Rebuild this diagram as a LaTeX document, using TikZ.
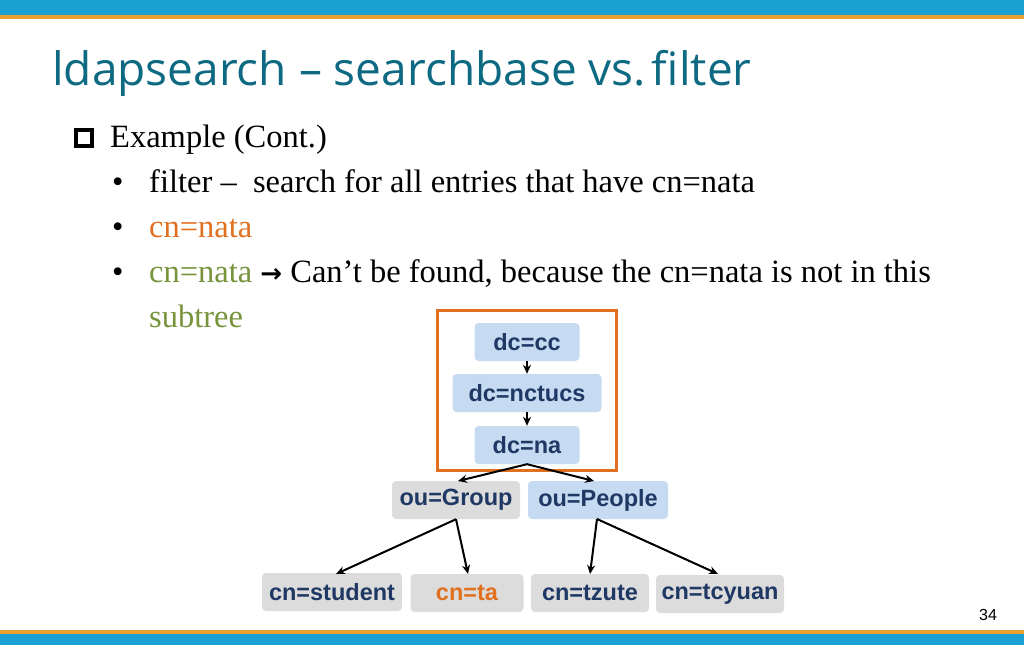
\documentclass[tikz,border=0pt]{standalone}
\usepackage{fontspec}
\setmainfont{Liberation Serif}
\newfontfamily\titlefont{Open Sans}
\newfontfamily\arialf{Liberation Sans}
\newfontfamily\dejavu{DejaVu Sans}
\usetikzlibrary{arrows.meta}
\definecolor{topblue}{HTML}{1AA0D2}
\definecolor{barorange}{HTML}{E8A030}
\definecolor{titleteal}{HTML}{0E6A82}
\definecolor{orng}{HTML}{E07020}
\definecolor{olive}{HTML}{77933C}
\definecolor{navy}{HTML}{1F3864}
\definecolor{lblue}{HTML}{C6DBF2}
\definecolor{lgray}{HTML}{DCDCDC}
\definecolor{boxorange}{HTML}{E07020}
\begin{document}
\begin{tikzpicture}[x=1pt,y=-1pt,
  tnode/.style={rounded corners=4pt,minimum height=38pt,inner sep=0pt,font=\arialf\bfseries\fontsize{23.5}{23.5}\selectfont,text=navy},
  bl/.style={tnode,fill=lblue},
  gr/.style={tnode,fill=lgray},
  arr/.style={-{Stealth[length=9pt,width=8pt]},line width=2pt},
  body/.style={anchor=base west,inner sep=0pt,font=\fontsize{32.5}{32.5}\selectfont}]
\useasboundingbox (0,0) rectangle (1024,645);
\fill[topblue] (0,0) rectangle (1024,15);
\fill[barorange] (0,15) rectangle (1024,19);
\fill[barorange] (0,630) rectangle (1024,634);
\fill[topblue] (0,634) rectangle (1024,645);
\node[anchor=base west,inner sep=0pt,text=titleteal,font=\titlefont\fontsize{46}{46}\selectfont] (title) at (52,85) {ldapsearch – searchbase vs.\kern-6pt\ filter};
\node[draw=black,line width=4pt,minimum size=16pt,inner sep=0pt] (sq) at (84,138) {};
\node[body] (ex) at (110,147) {Example (Cont.)};
\node[body] (b1) at (112,192) {•};
\node[body] (t1) at (149,192) {filter –\ \ search for all entries that have cn=nata};
\node[body] (b2) at (112,237) {•};
\node[body,text=orng] (t2) at (149,237) {cn=nata};
\node[body] (b3) at (112,282) {•};
\node[body] (t3) at (149,282) {\textcolor{olive}{cn=nata} {\dejavu\bfseries\fontsize{26}{26}\selectfont →} Can’t be found, because the cn=nata is not in this};
\node[body,text=olive] (t4) at (149,327) {subtree};
\node[draw=boxorange,line width=3pt,minimum width=179pt,minimum height=160pt,inner sep=0pt] (frame) at (526.5,390) {};
\node[bl,minimum width=105pt] (cc) at (527,342) {dc=cc};
\node[bl,minimum width=149pt] (nctucs) at (527,393) {dc=nctucs};
\node[bl,minimum width=105pt] (na) at (527,445) {dc=na};
\node[gr,minimum width=128pt] (grp) at (456,500) {ou=Group};
\node[bl,minimum width=140pt] (ppl) at (598,500) {ou=People};
\node[gr,minimum width=140pt] (stu) at (332,592) {cn=student};
\node[gr,minimum width=113pt,text=orng] (ta) at (467,593) {cn=ta};
\node[gr,minimum width=118pt] (tz) at (590,593) {cn=tzute};
\node[gr,minimum width=128pt] (tcy) at (720,594) {cn=tcyuan};
\draw[arr] (cc.south) -- (nctucs.north);
\draw[arr] (nctucs.south) -- (na.north);
\draw[arr] (na.south) -- (458,481);
\draw[arr] (na.south) -- (594,481);
\draw[arr] (grp.south) -- (336,574);
\draw[arr] (grp.south) -- (468,574);
\draw[arr] (597,519) -- (590,574);
\draw[arr] (597,519) -- (718,574);
\node[font=\arialf\fontsize{16}{16}\selectfont] (pg) at (988,615) {34};
\end{tikzpicture}
\end{document}
